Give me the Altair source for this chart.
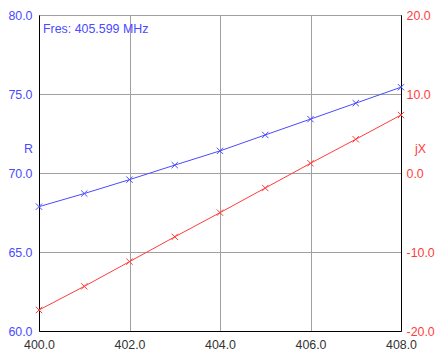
import altair as alt
import pandas as pd

# Impedance sweep: resistance (R) and reactance (jX) versus frequency (MHz)
freq = [400, 401, 402, 403, 404, 405, 406, 407, 408]
r_vals = [67.87, 68.70, 69.58, 70.50, 71.40, 72.41, 73.41, 74.42, 75.43]
jx_vals = [-17.34, -14.35, -11.22, -8.08, -5.02, -1.90, 1.23, 4.27, 7.34]
fres_label = "Fres: 405.599 MHz"

x_ticks = [400, 402, 404, 406, 408]
r_ticks = [60, 65, 70, 75, 80]
jx_ticks = [-20, -10, 0, 10, 20]

BLUE = "#4a4aff"
RED = "#ff3c3c"
FONT = "Liberation Sans"
FS = 12.4
X_MARK = "M-1,-1L1,1M-1,1L1,-1"

df = pd.DataFrame({"freq": freq, "R": r_vals, "jX": jx_vals})
note = pd.DataFrame({"freq": [freq[0]], "R": [r_ticks[-1]], "label": [fres_label]})

x_enc = alt.X(
    "freq:Q",
    scale=alt.Scale(domain=[x_ticks[0], x_ticks[-1]], nice=False, zero=False),
    axis=alt.Axis(values=x_ticks, format=".1f", title=None, grid=True,
                  ticks=False, labelPadding=7, labelColor="#333333",
                  labelFlush=False, labelOverlap=False),
)

r_y = alt.Y(
    "R:Q",
    scale=alt.Scale(domain=[r_ticks[0], r_ticks[-1]], nice=False, zero=False),
    axis=alt.Axis(values=r_ticks, format=".1f", orient="left", title="R",
                  titleAngle=0, titleX=-11, titleY=133, titleAlign="center",
                  titleBaseline="middle", titleColor=BLUE, labelColor=BLUE,
                  ticks=False, labelPadding=7, grid=True,
                  labelFlush=False, labelOverlap=False),
)

# plain hyphen for negative reactance labels
jx_y = alt.Y(
    "jX:Q",
    scale=alt.Scale(domain=[jx_ticks[0], jx_ticks[-1]], nice=False, zero=False),
    axis=alt.Axis(values=jx_ticks, format=".1f", orient="right", title="jX",
                  titleAngle=0, titleX=19, titleY=133, titleAlign="center",
                  titleBaseline="middle", titleColor=RED, labelColor=RED,
                  ticks=False, labelPadding=5, grid=False,
                  labelFlush=False, labelOverlap=False,
                  labelExpr="replace(datum.label, '\u2212', '-')"),
)

base = alt.Chart(df)

r_line = base.mark_line(color=BLUE, strokeWidth=1).encode(x=x_enc, y=r_y)
r_pts = base.mark_point(shape=X_MARK, color=BLUE, size=40, strokeWidth=1,
                        filled=False, opacity=1).encode(x=x_enc, y=r_y)
fres_text = alt.Chart(note).mark_text(
    align="left", baseline="top", dx=4, dy=8, color=BLUE, font=FONT, fontSize=FS
).encode(x=x_enc, y=r_y, text="label:N")

jx_line = base.mark_line(color=RED, strokeWidth=1).encode(x=x_enc, y=jx_y)
jx_pts = base.mark_point(shape=X_MARK, color=RED, size=40, strokeWidth=1,
                         filled=False, opacity=1).encode(x=x_enc, y=jx_y)

chart = (
    alt.layer(
        alt.layer(r_line, r_pts, fres_text),
        alt.layer(jx_line, jx_pts),
    )
    .resolve_scale(y="independent")
    .properties(
        width=362,
        height=316,
        padding={"left": 39, "top": 15, "right": 39, "bottom": 23},
        autosize=alt.AutoSizeParams(type="none"),
        background="white",
    )
    .configure_view(stroke="black", strokeWidth=1)
    .configure_axis(
        domainColor="black",
        domainWidth=1,
        gridColor="#a0a0a0",
        gridWidth=1,
        labelFont=FONT,
        labelFontSize=FS,
        titleFont=FONT,
        titleFontSize=FS,
        titleFontWeight="normal",
    )
)

chart.save("out.html", embed_options={"renderer": "svg", "actions": False})
